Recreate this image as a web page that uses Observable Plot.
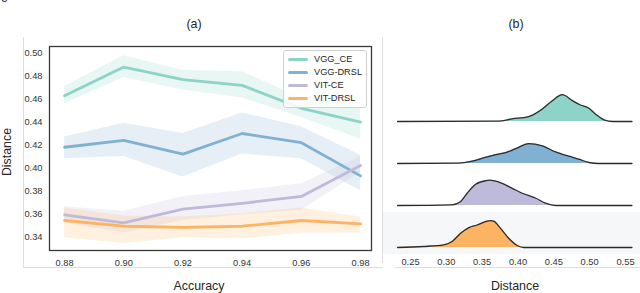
<!DOCTYPE html>
<html>
<head>
<meta charset="utf-8">
<script src="https://cdn.jsdelivr.net/npm/d3@7"></script>
<script src="https://cdn.jsdelivr.net/npm/@observablehq/plot@0.6"></script>
<style>
  body { margin: 0; background: white; }
  #fig { position: relative; width: 640px; height: 293px; overflow: hidden; font-family: "Liberation Sans", Arial, sans-serif; color: #262626; }
  #fig .abs { position: absolute; }
  .lbl { font-size: 12.4px; white-space: nowrap; }
  .legend { position: absolute; left: 283px; top: 50px; width: 82px; height: 56px; border: 1px solid #d0d0d0; border-radius: 3px; background: rgba(255,255,255,0.85); font-size: 9.2px; }
  .legend .row { position: absolute; left: 0; height: 13px; width: 100%; }
  .legend .sw { position: absolute; left: 4px; top: 5px; width: 20px; height: 3px; border-radius: 1.5px; }
  .legend .tx { position: absolute; left: 30px; top: 0; line-height: 13px; }
  .gline { position: absolute; background: #dedede; }
</style>
</head>
<body>
<div id="fig"></div>
<script>
// ---------- data: panel (a) ----------
const accuracy = [0.88, 0.90, 0.92, 0.94, 0.96, 0.98];
const models = ["VGG_CE", "VGG-DRSL", "VIT-CE", "VIT-DRSL"];
const modelColors = ["#8dd3c7", "#80b1d3", "#bebada", "#fdb462"];

const vggCeMean  = [0.463, 0.488, 0.477, 0.472, 0.452, 0.440];
const vggCeLow   = [0.456, 0.479, 0.468, 0.461, 0.444, 0.425];
const vggCeHigh  = [0.471, 0.498, 0.485, 0.484, 0.461, 0.454];

const vggDrslMean = [0.418, 0.424, 0.412, 0.430, 0.422, 0.393];
const vggDrslLow  = [0.408, 0.410, 0.392, 0.412, 0.408, 0.380];
const vggDrslHigh = [0.427, 0.439, 0.430, 0.448, 0.436, 0.411];

const vitCeMean = [0.359, 0.352, 0.364, 0.369, 0.375, 0.402];
const vitCeLow  = [0.352, 0.343, 0.354, 0.359, 0.363, 0.396];
const vitCeHigh = [0.366, 0.362, 0.375, 0.380, 0.386, 0.410];

const vitDrslMean = [0.354, 0.349, 0.348, 0.349, 0.354, 0.351];
const vitDrslLow  = [0.339, 0.334, 0.339, 0.338, 0.343, 0.343];
const vitDrslHigh = [0.365, 0.358, 0.357, 0.360, 0.365, 0.357];

const distanceTicksA = [0.34, 0.36, 0.38, 0.40, 0.42, 0.44, 0.46, 0.48, 0.50];

// ---------- data: panel (b) (density curves) ----------
const distanceTicksB = [0.25, 0.30, 0.35, 0.40, 0.45, 0.50, 0.55];

const vggCeDist = [0.232, 0.373, 0.392, 0.415, 0.434, 0.448, 0.462, 0.476, 0.487, 0.499, 0.508, 0.520, 0.532, 0.559];
const vggCeDens = [0, 0.2, 1.6, 3.0, 7.6, 12.6, 16.2, 12.6, 10.0, 8.0, 4.6, 1.0, 0, 0];

const vggDrslDist = [0.232, 0.3175, 0.336, 0.355, 0.369, 0.383, 0.397, 0.415, 0.434, 0.4525, 0.471, 0.485, 0.499, 0.513, 0.559];
const vggDrslDens = [0, 0.2, 1.4, 3.8, 5.4, 6.6, 9.0, 12.0, 10.6, 7.0, 4.4, 2.6, 0.6, 0, 0];

const vitCeDist = [0.232, 0.308, 0.320, 0.329, 0.341, 0.355, 0.361, 0.366, 0.378, 0.392, 0.406, 0.425, 0.4385, 0.4525, 0.559];
const vitCeDens = [0, 0.4, 2.4, 7.4, 12.8, 15.0, 15.3, 15.0, 13.4, 10.4, 7.4, 4.4, 1.4, 0, 0];

const vitDrslDist = [0.232, 0.2686, 0.2965, 0.308, 0.320, 0.3315, 0.343, 0.357, 0.362, 0.366, 0.3757, 0.387, 0.399, 0.408, 0.559];
const vitDrslDens = [0, 0.6, 1.6, 3.6, 8.6, 12.0, 13.6, 16.0, 16.3, 16.0, 11.6, 5.6, 1.2, 0, 0];

// ---------- build tables ----------
const lineSets = [
  [vggCeMean, vggCeLow, vggCeHigh],
  [vggDrslMean, vggDrslLow, vggDrslHigh],
  [vitCeMean, vitCeLow, vitCeHigh],
  [vitDrslMean, vitDrslLow, vitDrslHigh]
];
const rowsA = [];
models.forEach((m, i) => {
  const [mean, lo, hi] = lineSets[i];
  accuracy.forEach((a, j) => rowsA.push({model: m, acc: a, mean: mean[j], lo: lo[j], hi: hi[j]}));
});

const densSets = [[vggCeDist, vggCeDens], [vggDrslDist, vggDrslDens], [vitCeDist, vitCeDens], [vitDrslDist, vitDrslDens]];
const rowsB = [];
models.forEach((m, i) => {
  const [xs, ds] = densSets[i];
  xs.forEach((x, j) => rowsB.push({model: m, d: x, dens: ds[j]}));
});

const fmt2 = d3.format(".2f");
const fig = document.getElementById("fig");

function place(el, left, top) {
  el.style.position = "absolute";
  el.style.left = left + "px";
  el.style.top = top + "px";
  fig.appendChild(el);
  return el;
}
function addDiv(cls, html, css) {
  const d = document.createElement("div");
  d.className = cls;
  d.innerHTML = html;
  Object.assign(d.style, css);
  fig.appendChild(d);
  return d;
}

// decorative light frame lines
addDiv("gline", "", {left: "23px", top: "37px", width: "1px", height: "231px"});
addDiv("gline", "", {left: "23px", top: "267px", width: "360px", height: "1px"});
addDiv("gline", "", {left: "382px", top: "37px", width: "1px", height: "226px"});
addDiv("gline", "", {left: "395px", top: "267px", width: "245px", height: "1px"});
// light background of last ridge
addDiv("abs", "", {left: "383px", top: "212px", width: "257px", height: "42px", background: "#f6f7f9"});

// ---------- panel (a) ----------
const plotA = Plot.plot({
  width: 390, height: 293,
  marginLeft: 49, marginRight: 19, marginTop: 46, marginBottom: 43,
  style: {fontFamily: "'Liberation Sans', Arial, sans-serif", fontSize: "9.3px", color: "#333", background: "transparent"},
  x: {domain: [0.8749, 0.9837]},
  y: {domain: [0.3278, 0.506]},
  color: {domain: models, range: modelColors},
  marks: [
    Plot.areaY(rowsA, {x: "acc", y1: "lo", y2: "hi", fill: "model", fillOpacity: 0.2, z: "model"}),
    Plot.lineY(rowsA, {x: "acc", y: "mean", stroke: "model", strokeWidth: 2.8, z: "model"}),
    Plot.frame({stroke: "#3a3a3a", strokeWidth: 1.3}),
    Plot.axisX({ticks: accuracy, tickFormat: fmt2, tickSize: 0, tickPadding: 8.7, label: null}),
    Plot.axisY({ticks: distanceTicksA, tickFormat: fmt2, tickSize: 0, tickPadding: 7, label: null})
  ]
});
place(plotA, 0, 0);

// ---------- panel (b) ----------
const plotB = Plot.plot({
  width: 258, height: 293,
  marginLeft: 0, marginRight: 0, marginTop: 78.5, marginBottom: 45.3,
  style: {fontFamily: "'Liberation Sans', Arial, sans-serif", fontSize: "9.3px", color: "#333", background: "transparent"},
  x: {domain: [0.21093, 0.57093]},
  y: {domain: [0, 25.4], axis: null},
  fy: {domain: models, padding: 0, axis: null, label: null},
  facet: {marginTop: 0, marginBottom: 0, marginLeft: 0, marginRight: 0},
  color: {domain: models, range: modelColors},
  marks: [
    Plot.areaY(rowsB, {x: "d", y: "dens", fy: "model", fill: "model", curve: "monotone-x"}),
    Plot.lineY(rowsB, {x: "d", y: "dens", fy: "model", stroke: "#2b2b2b", strokeWidth: 1.3, curve: "monotone-x"}),
    Plot.axisX({ticks: distanceTicksB, tickFormat: fmt2, tickSize: 0, tickPadding: 11, label: null})
  ]
});
place(plotB, 382, 0);

// ---------- titles and axis labels ----------
addDiv("abs lbl", "(a)", {left: "194px", top: "17px", transform: "translateX(-50%)"});
addDiv("abs lbl", "(b)", {left: "516px", top: "17px", transform: "translateX(-50%)"});
addDiv("abs lbl", "Accuracy", {left: "199px", top: "279px", transform: "translateX(-50%)"});
addDiv("abs lbl", "Distance", {left: "515px", top: "279px", transform: "translateX(-50%)"});
addDiv("abs lbl", "Distance", {left: "7px", top: "152px", transform: "translate(-50%,-50%) rotate(-90deg)"});
addDiv("abs lbl", "g", {left: "1px", top: "-12px"});

// ---------- legend ----------
const leg = addDiv("legend", "", {});
models.forEach((m, i) => {
  const r = document.createElement("div");
  r.className = "row";
  r.style.top = (1.8 + i * 13.1) + "px";
  r.innerHTML = `<div class="sw" style="background:${modelColors[i]}"></div><div class="tx">${m}</div>`;
  leg.appendChild(r);
});
</script>
</body>
</html>
